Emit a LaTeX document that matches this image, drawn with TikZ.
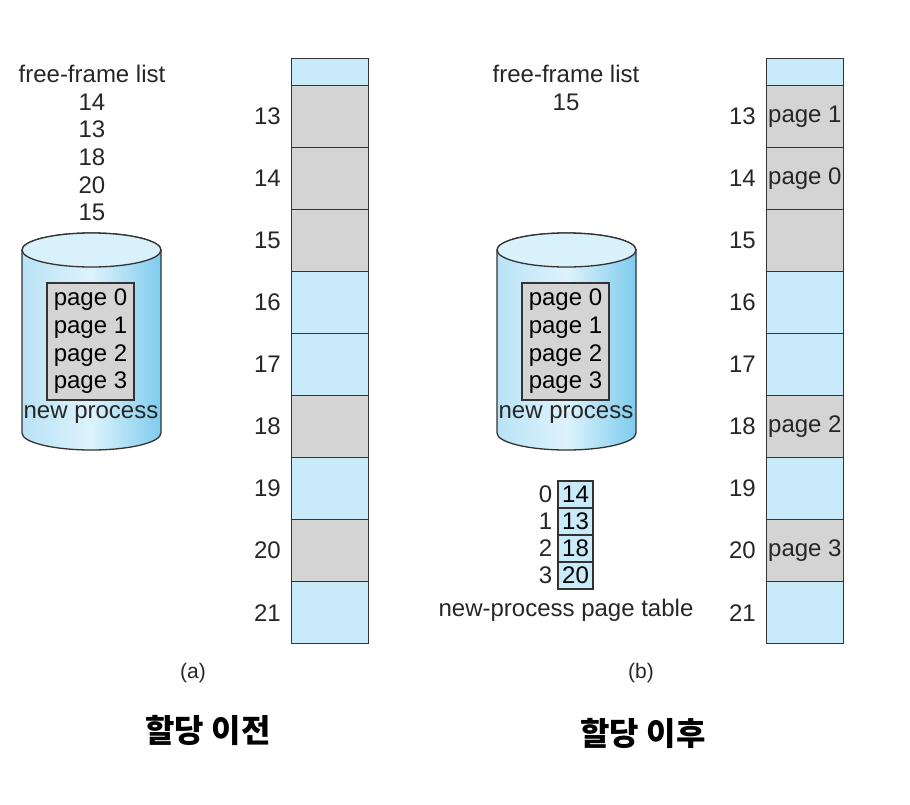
\documentclass[tikz,border=0pt]{standalone}
\usepackage{fontspec}
\setmainfont{Liberation Sans}
\newfontfamily\krfont{Noto Sans CJK KR}
\usetikzlibrary{positioning}
\definecolor{cgray}{HTML}{D4D4D4}
\definecolor{cblue}{HTML}{C8EAF9}
\definecolor{cline}{HTML}{333333}
\definecolor{cylside}{HTML}{7FCBEE}
\definecolor{cylmid}{HTML}{DDF3FC}
\definecolor{cyltop}{HTML}{D8F1FB}

\begin{document}
\begin{tikzpicture}[
    x=1pt, y=-1pt,
    frame/.style={draw=cline, line width=1.3pt, minimum width=77pt,
      minimum height=62pt, inner sep=0pt, anchor=north west},
    fgray/.style={frame, fill=cgray},
    fblue/.style={frame, fill=cblue},
    lbl/.style={font=\fontsize{24}{27.7}\selectfont, inner sep=0pt, text=black!85},
    pgbox/.style={draw=cline, line width=1.3pt, fill=cgray, minimum width=87pt,
      minimum height=117pt, inner sep=0pt, align=center,
      font=\fontsize{24}{27.7}\selectfont},
    ptcell/.style={draw=cline, line width=1.3pt, fill=cblue, minimum width=35pt,
      minimum height=27pt, inner sep=0pt, font=\fontsize{24}{27}\selectfont},
    kr/.style={font=\krfont\bfseries\fontsize{32}{36}\selectfont, inner sep=0pt},
  ]
  \useasboundingbox (0,0) rectangle (910,804);
  % both panels: disk and memory column
  \foreach \s/\dx in {a/0,b/475} {
    \begin{scope}[xshift=\dx pt]
      % the disk
      \shade[left color=cylside!55, right color=cylside, middle color=cylmid,
          draw=cline, line width=1.3pt]
        (22,250) -- (22,433) arc[start angle=180, end angle=360, x radius=69.5pt, y radius=17pt]
        -- (161,250) arc[start angle=0, end angle=180, x radius=69.5pt, y radius=17pt] -- cycle;
      \draw[fill=cyltop, draw=cline, line width=1.3pt]
        (91.5,250) ellipse[x radius=69.5pt, y radius=17pt];
      \node[pgbox] (box\s) at (90.5,341.5) {page 0\\page 1\\page 2\\page 3};
      \node[lbl] (np\s) at (91,415) {new process};
      % physical memory
      \node[fblue, minimum height=27pt] (m\s12) at (291,58) {};
      \foreach \n/\c [count=\i from 0] in
          {13/fgray,14/fgray,15/fgray,16/fblue,17/fblue,18/fgray,19/fblue,20/fgray,21/fblue} {
        \node[\c] (m\s\n) at (291,85+62*\i) {};
        \node[lbl, left=10pt of m\s\n.west] (n\s\n) {\n};
      }
    \end{scope}
  }
  % (a) before allocation
  \node[lbl, align=center] (ffla) at (92,143)
    {free-frame list\\14\\13\\18\\20\\15};
  \node[lbl, font=\fontsize{21}{24}\selectfont] (capa) at (193,673) {(a)};
  \node[kr] (kra) at (208,730) {할당 이전};
  % (b) after allocation
  \node[lbl, align=center] (fflb) at (566,88) {free-frame list\\15};
  \foreach \n/\p in {13/1,14/0,18/2,20/3}
    \node[lbl, anchor=west] (pg\n) at ([xshift=2pt]mb\n.west) {page \p};
  % page table of the new process
  \foreach \v [count=\i from 0] in {14,13,18,20} {
    \node[ptcell] (pt\i) at (575.5,494.5+27*\i) {\v};
    \node[lbl, left=5pt of pt\i.west] (ix\i) {\i};
  }
  \node[lbl] (ptl) at (566,610) {new-process page table};
  \node[lbl, font=\fontsize{21}{24}\selectfont] (capb) at (641,673) {(b)};
  \node[kr] (krb) at (643,733) {할당 이후};
\end{tikzpicture}
\end{document}
